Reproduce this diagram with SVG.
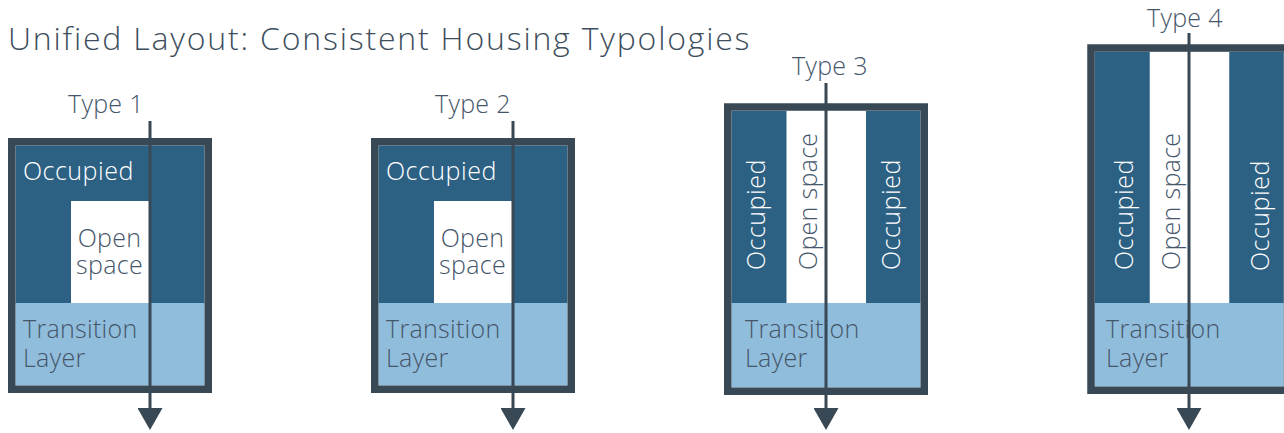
<svg xmlns="http://www.w3.org/2000/svg" width="1284" height="433" viewBox="0 0 1284 433">
<defs>
<style>
text{font-family:"Open Sans","Liberation Sans",sans-serif;font-weight:300}
.title{font-size:32px;fill:#3e4e5c;letter-spacing:1.8px}
.lbl{font-size:25px;fill:#45566a;letter-spacing:0.3px}
.wt{font-size:25px;fill:#ffffff;letter-spacing:0.5px}
.dk{fill:#2c6184}
.lt{fill:#90bddb}
.wh{fill:#ffffff}
.bd{fill:none;stroke:#384854;stroke-width:7.5}
.ar{stroke:#384854;stroke-width:3;fill:none}
</style>
<marker id="ah" viewBox="0 0 22 25" refX="0" refY="12.5" markerWidth="22" markerHeight="25" markerUnits="userSpaceOnUse" orient="auto">
<path d="M0,0 L22,12.5 L0,25 z" fill="#384854"/>
</marker>
</defs>
<rect width="1284" height="433" fill="#ffffff"/>
<g id="title"><text class="title" x="8" y="50">Unified Layout: Consistent Housing Typologies</text></g>

<g id="type1">
<rect class="dk" x="15.5" y="145.5" width="189" height="158"/>
<rect class="lt" x="15.5" y="303" width="189" height="82.5"/>
<rect class="wh" x="71" y="201" width="78" height="102"/>
<rect class="bd" x="11.75" y="141.75" width="196.5" height="247.5"/>
<text class="wt" x="23" y="180">Occupied</text>
<text class="lbl" x="109.5" y="246.5" text-anchor="middle">Open</text>
<text class="lbl" x="109.5" y="274" text-anchor="middle">space</text>
<text class="lbl" x="23" y="338">Transition</text>
<text class="lbl" x="23" y="366.5">Layer</text>
<text class="lbl" x="68" y="113">Type 1</text>
</g>

<g id="type2">
<rect class="dk" x="378.5" y="145.5" width="189" height="158"/>
<rect class="lt" x="378.5" y="303" width="189" height="82.5"/>
<rect class="wh" x="434" y="201" width="78" height="102"/>
<rect class="bd" x="374.75" y="141.75" width="196.5" height="247.5"/>
<text class="wt" x="386" y="180">Occupied</text>
<text class="lbl" x="472.5" y="246.5" text-anchor="middle">Open</text>
<text class="lbl" x="472.5" y="274" text-anchor="middle">space</text>
<text class="lbl" x="386" y="338">Transition</text>
<text class="lbl" x="386" y="366.5">Layer</text>
<text class="lbl" x="435" y="113">Type 2</text>
</g>

<g id="type3">
<rect class="dk" x="731.5" y="111" width="189" height="192"/>
<rect class="wh" x="786.5" y="111" width="79.5" height="192"/>
<rect class="lt" x="731.5" y="303" width="189" height="84.5"/>
<rect class="bd" x="727.75" y="107" width="196.5" height="284.25"/>
<text class="wt" transform="translate(765,270) rotate(-90)">Occupied</text>
<text class="lbl" transform="translate(816.5,270) rotate(-90)">Open space</text>
<text class="wt" transform="translate(900,270) rotate(-90)">Occupied</text>
<text class="lbl" x="745" y="338">Transition</text>
<text class="lbl" x="745" y="366.5">Layer</text>
<text class="lbl" x="792" y="75">Type 3</text>
</g>

<g id="type4">
<rect class="dk" x="1094.75" y="51.75" width="189" height="251.25"/>
<rect class="wh" x="1149.75" y="51.75" width="79.5" height="251.25"/>
<rect class="lt" x="1094.75" y="303" width="189" height="83.5"/>
<rect class="bd" x="1091" y="48" width="196.5" height="342.25"/>
<text class="wt" transform="translate(1132.5,270) rotate(-90)">Occupied</text>
<text class="lbl" transform="translate(1180,270) rotate(-90)">Open space</text>
<text class="wt" transform="translate(1269,271) rotate(-90)">Occupied</text>
<text class="lbl" x="1106" y="338">Transition</text>
<text class="lbl" x="1106" y="366.5">Layer</text>
<text class="lbl" x="1147" y="27">Type 4</text>
</g>

<g id="connectors">
<line class="ar" x1="150" y1="121" x2="150" y2="408" marker-end="url(#ah)"/>
<line class="ar" x1="513" y1="121" x2="513" y2="408" marker-end="url(#ah)"/>
<line class="ar" x1="826" y1="83" x2="826" y2="408" marker-end="url(#ah)"/>
<line class="ar" x1="1189" y1="33" x2="1189" y2="408" marker-end="url(#ah)"/>
</g>
</svg>
